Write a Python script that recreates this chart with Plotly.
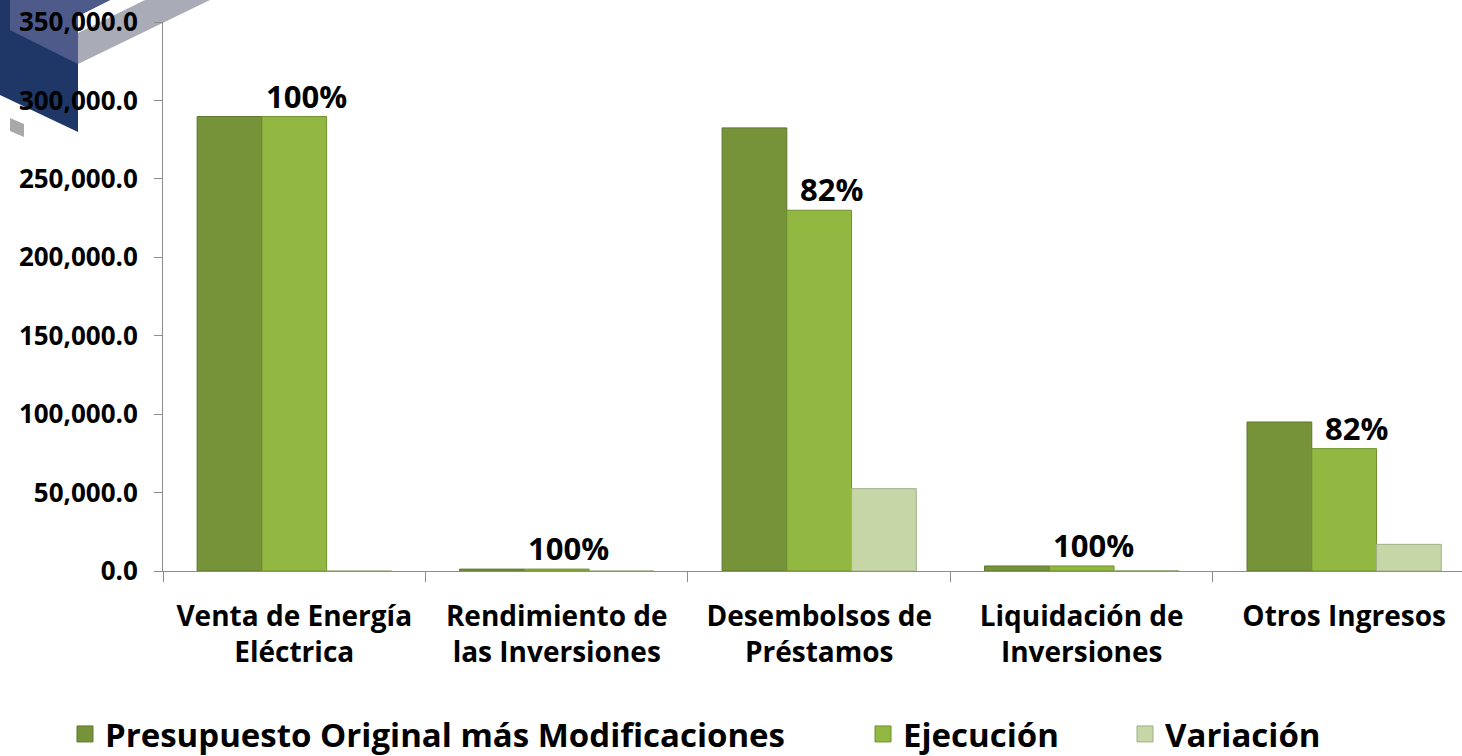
import plotly.graph_objects as go

# ---------------- data ----------------
categories = [
    "Venta de Energía<br>Eléctrica",
    "Rendimiento de<br>las Inversiones",
    "Desembolsos de<br>Préstamos",
    "Liquidación de<br>Inversiones",
    "Otros Ingresos",
]
series_names = ["Presupuesto Original más Modificaciones", "Ejecución", "Variación"]
presupuesto = [289700, 1200, 282500, 3200, 95000]
ejecucion = [289700, 1200, 230000, 3200, 78000]
variacion = [0, 0, 52500, 300, 17000]
pct_labels = ["100%", "100%", "82%", "100%", "82%"]
y_ticks = [0, 50000, 100000, 150000, 200000, 250000, 300000, 350000]

# ---------------- style ----------------
W, H = 1462, 756
ML, MR, MT, MB = 163, 0, 22, 185
FONT = "Open Sans"
colors = ["#76933a", "#92b842", "#c6d6a6"]
line_colors = ["#5d7530", "#6f8f30", "#9fb087"]
legends = ["legend", "legend2", "legend3"]

fig = go.Figure()
for name, vals, col, lc in zip(series_names, [presupuesto, ejecucion, variacion],
                               colors, line_colors):
    fig.add_trace(go.Bar(
        x=categories, y=vals, name=name,
        marker=dict(color=col, line=dict(color=lc, width=1)),
        showlegend=False, hoverinfo="y+name",
    ))

# legend entries (larger square swatches)
for name, col, lc, lg in zip(series_names, colors, line_colors, legends):
    fig.add_trace(go.Scatter(
        x=[None], y=[None], mode="markers", name=name, legend=lg,
        marker=dict(symbol="square", size=16, color=col, line=dict(color=lc, width=1)),
        showlegend=True, hoverinfo="skip",
    ))

for cat, val, lab in zip(categories, ejecucion, pct_labels):
    fig.add_annotation(
        x=cat, y=val, text=lab, showarrow=False,
        xanchor="center", yanchor="bottom", xshift=12, yshift=-2,
        font=dict(family=FONT, size=31, color="#000000", weight="bold"),
    )

# decorative logo in top-left corner (pixel -> paper conversion)
pw = W - ML - MR
ph = H - MT - MB


def P(px, py):
    return (px - ML) / pw, (H - MB - py) / ph


def path(pts):
    s = ""
    for i, (px, py) in enumerate(pts):
        x, y = P(px, py)
        s += ("M" if i == 0 else "L") + f"{x:.5f},{y:.5f} "
    return s + "Z"


deco = [
    ([(78, 33), (145, 0), (210, 0), (78, 64)], "#a9acb6"),
    ([(0, 0), (110, 0), (78, 16), (78, 132), (0, 95)], "#1e3766"),
    ([(10, 0), (110, 0), (78, 16), (78, 64), (10, 30)], "#4d5a8a"),
    ([(10, 118), (24, 124), (24, 137), (10, 131)], "#a9a9a9"),
]
for pts, col in deco:
    fig.add_shape(type="path", path=path(pts), xref="paper", yref="paper",
                  fillcolor=col, line=dict(width=0), layer="below")

axis_col = "#8c8c8c"
fig.update_layout(
    width=W, height=H,
    margin=dict(l=ML, r=MR, t=MT, b=MB),
    paper_bgcolor="white", plot_bgcolor="rgba(0,0,0,0)",
    barmode="group", bargap=0.26, bargroupgap=0.0,
    font=dict(family=FONT, color="#000000"),
    xaxis=dict(
        range=[-0.5, 4.449], showline=True, linecolor=axis_col, linewidth=1,
        ticks="outside", ticklen=10, tickcolor=axis_col, tickson="boundaries",
        showgrid=False, zeroline=False,
        tickfont=dict(family=FONT, size=28, color="#000000", weight="bold"),
        ticklabelstandoff=20,
    ),
    yaxis=dict(
        range=[0, 350000], tickvals=y_ticks, tickformat=",.1f",
        showline=True, linecolor=axis_col, linewidth=1,
        ticks="outside", ticklen=8, tickcolor=axis_col,
        showgrid=False, zeroline=False,
        tickfont=dict(family=FONT, size=26, color="#000000", weight="bold"),
        ticklabelstandoff=11,
    ),
    showlegend=True,
)
leg_font = dict(family=FONT, size=33, color="#000000", weight="bold")
for key, xpx in zip(legends, [65, 863, 1125]):
    fig.update_layout({key: dict(
        x=xpx / W, xref="container", y=1 - 734 / H, yref="container",
        xanchor="left", yanchor="middle", orientation="h",
        font=leg_font, bgcolor="rgba(0,0,0,0)", borderwidth=0,
        itemsizing="trace",
    )})

fig.write_html("out.html", config={"displayModeBar": False},
               post_script="document.body.style.margin='0';")
